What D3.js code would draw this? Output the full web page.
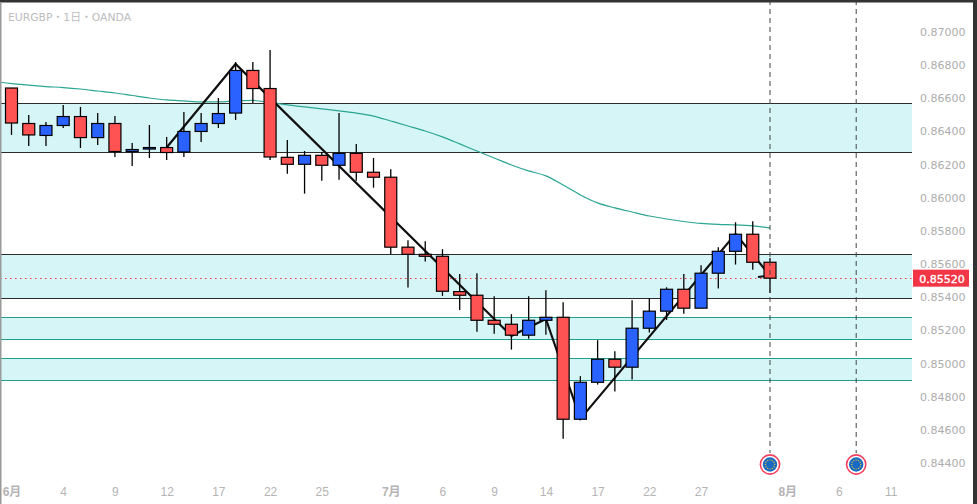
<!DOCTYPE html>
<html>
<head>
<meta charset="utf-8">
<script src="https://cdn.jsdelivr.net/npm/d3@7"></script>
<style>
  html, body { margin: 0; padding: 0; background: #fff; overflow: hidden; }
  svg { display: block; font-family: "DejaVu Sans", "Noto Sans CJK JP", sans-serif; }
</style>
</head>
<body>
<script>
const opens = [0.86662, 0.86448, 0.86376, 0.86436, 0.86490, 0.86363, 0.86448, 0.86279, 0.86294, 0.86303, 0.86276, 0.86400, 0.86448, 0.86511, 0.86768, 0.86659,
  0.86244, 0.86202, 0.86256, 0.86196, 0.86268, 0.86154, 0.86124, 0.85702, 0.85659, 0.85647, 0.85434, 0.85412, 0.85261, 0.85237, 0.85171, 0.85261,
  0.85279, 0.84664, 0.84887, 0.85026, 0.84978, 0.85213, 0.85316, 0.85448, 0.85334, 0.85545, 0.85677, 0.85780, 0.85611];
const highs = [0.86662, 0.86499, 0.86457, 0.86560, 0.86548, 0.86511, 0.86493, 0.86331, 0.86439, 0.86367, 0.86518, 0.86511, 0.86602, 0.86819, 0.86819, 0.86891,
  0.86349, 0.86282, 0.86276, 0.86511, 0.86325, 0.86240, 0.86172, 0.85744, 0.85738, 0.85690, 0.85540, 0.85545, 0.85406, 0.85298, 0.85406, 0.85442,
  0.85370, 0.84924, 0.85141, 0.85074, 0.85382, 0.85394, 0.85460, 0.85540, 0.85593, 0.85702, 0.85852, 0.85858, 0.85637];
const lows = [0.86379, 0.86312, 0.86312, 0.86421, 0.86300, 0.86318, 0.86246, 0.86192, 0.86240, 0.86228, 0.86246, 0.86337, 0.86421, 0.86469, 0.86572, 0.86228,
  0.86145, 0.86025, 0.86103, 0.86109, 0.86103, 0.86061, 0.85661, 0.85458, 0.85615, 0.85408, 0.85323, 0.85192, 0.85180, 0.85084, 0.85150, 0.85174,
  0.84547, 0.84664, 0.84873, 0.84831, 0.84903, 0.85187, 0.85263, 0.85301, 0.85334, 0.85452, 0.85597, 0.85566, 0.85426];
const closes = [0.86451, 0.86379, 0.86436, 0.86490, 0.86363, 0.86448, 0.86279, 0.86291, 0.86303, 0.86273, 0.86400, 0.86448, 0.86508, 0.86768, 0.86659, 0.86246,
  0.86202, 0.86256, 0.86196, 0.86268, 0.86154, 0.86124, 0.85702, 0.85659, 0.85647, 0.85436, 0.85412, 0.85261, 0.85237, 0.85171, 0.85261, 0.85279,
  0.84664, 0.84887, 0.85026, 0.84978, 0.85213, 0.85316, 0.85448, 0.85334, 0.85545, 0.85677, 0.85780, 0.85611, 0.85515];

// moving average, first value sits one bar left of the first candle
const maValues = [0.86701, 0.86689, 0.86679, 0.86671, 0.86665, 0.86656, 0.86644, 0.86632, 0.86617, 0.86602, 0.86590, 0.86584, 0.86578, 0.86578, 0.86584, 0.86587,
  0.86575, 0.86560, 0.86548, 0.86536, 0.86524, 0.86511, 0.86493, 0.86463, 0.86433, 0.86403, 0.86367, 0.86325, 0.86282, 0.86240, 0.86198, 0.86162,
  0.86132, 0.86077, 0.86017, 0.85969, 0.85939, 0.85914, 0.85890, 0.85872, 0.85857, 0.85845, 0.85839, 0.85836, 0.85830, 0.85818];

const zigzagBars = [9, 13, 29, 31, 33, 42, 44, 43.3];
const zigzagPrices = [0.86303, 0.86807, 0.85167, 0.85269, 0.84666, 0.85782, 0.85531, 0.85522];

const zoneTops = [0.86572, 0.85658, 0.85278, 0.85031];
const zoneBottoms = [0.86276, 0.85396, 0.85146, 0.84898];
const zoneEdges = ["#2b2b2b", "#2b2b2b", "#1f9e8c", "#1f9e8c"];

const priceTicks = d3.range(0, 14).map(i => 0.844 + i * 0.002);
const timeBars = [0, 3, 6, 9, 12, 15, 18, 22, 25, 28, 31, 34, 37, 40, 45, 48, 51];
const timeLabels = ["6月", "4", "9", "12", "17", "22", "25", "7月", "6", "9", "14", "17", "22", "27", "8月", "6", "11"];
const eventBars = [44, 49];

const lastPrice = 0.85515;
const lastLabel = "0.85520";

const width = 977;
const height = 504;
const paneRight = 912;
const axisFont = "'DejaVu Sans', sans-serif";
const timeFont = "'Liberation Sans', 'Noto Sans CJK JP', sans-serif";

const x = d3.scaleLinear().domain([0, 44]).range([11.5, 770]);
const y = d3.scaleLinear().domain([0.844, 0.87]).range([463, 32]);
const crisp = v => Math.round(v) + 0.5;

const svg = d3.select("body").append("svg")
    .attr("width", width)
    .attr("height", height);

svg.append("defs").append("clipPath").attr("id", "pane")
    .append("rect")
    .attr("width", paneRight)
    .attr("height", height);

const pane = svg.append("g").attr("clip-path", "url(#pane)");

// zones
zoneTops.forEach((top, i) => {
    pane.append("rect")
        .attr("x", 0)
        .attr("y", crisp(y(top)))
        .attr("width", paneRight)
        .attr("height", crisp(y(zoneBottoms[i])) - crisp(y(top)))
        .attr("fill", "#d6f5f7");
    [top, zoneBottoms[i]].forEach(p => {
        pane.append("line")
            .attr("x1", 0)
            .attr("x2", paneRight)
            .attr("y1", crisp(y(p)))
            .attr("y2", crisp(y(p)))
            .attr("stroke", zoneEdges[i])
            .attr("stroke-width", 1);
    });
});

// moving average
const maLine = d3.line()
    .x((d, i) => x(i - 1))
    .y(d => y(d))
    .curve(d3.curveMonotoneX);

pane.append("path")
    .attr("d", maLine(maValues))
    .attr("fill", "none")
    .attr("stroke", "#2aa593")
    .attr("stroke-width", 1.2);

// zigzag
const zigzag = d3.line()
    .x(d => x(d))
    .y((d, i) => y(zigzagPrices[i]));

pane.append("path")
    .attr("d", zigzag(zigzagBars))
    .attr("fill", "none")
    .attr("stroke", "#111")
    .attr("stroke-width", 2.2);

// last price line
pane.append("line")
    .attr("x1", 0)
    .attr("x2", paneRight)
    .attr("y1", crisp(y(lastPrice)))
    .attr("y2", crisp(y(lastPrice)))
    .attr("stroke", "#f23645")
    .attr("stroke-width", 1)
    .attr("stroke-dasharray", "1.5,3.5");

// candles
const candles = pane.selectAll("g.candle")
    .data(opens)
    .enter()
    .append("g")
    .attr("class", "candle");

candles.append("line")
    .attr("x1", (d, i) => x(i))
    .attr("x2", (d, i) => x(i))
    .attr("y1", (d, i) => y(highs[i]))
    .attr("y2", (d, i) => y(lows[i]))
    .attr("stroke", "#000")
    .attr("stroke-width", 1.3);

candles.append("rect")
    .attr("x", (d, i) => x(i) - 6)
    .attr("y", (d, i) => y(Math.max(d, closes[i])))
    .attr("width", 12)
    .attr("height", (d, i) => Math.abs(y(d) - y(closes[i])))
    .attr("fill", (d, i) => closes[i] < d ? "#ff5252" : "#2962ff")
    .attr("stroke", "#000")
    .attr("stroke-width", 1.2);

// event markers
eventBars.forEach(b => {
    pane.append("line")
        .attr("x1", x(b))
        .attr("x2", x(b))
        .attr("y1", 0)
        .attr("y2", 453)
        .attr("stroke", "#444")
        .attr("stroke-width", 1)
        .attr("stroke-dasharray", "5,4");
    const flag = pane.append("g").attr("transform", `translate(${x(b)},464.5)`);
    flag.append("circle").attr("r", 9.6).attr("fill", "#fff").attr("stroke", "#f23f5c").attr("stroke-width", 1.6);
    flag.append("circle").attr("r", 7.2).attr("fill", "#1669c4");
    flag.selectAll("circle.star")
        .data(d3.range(12))
        .enter()
        .append("circle")
        .attr("class", "star")
        .attr("cx", d => 4.6 * Math.cos(d * Math.PI / 6))
        .attr("cy", d => 4.6 * Math.sin(d * Math.PI / 6))
        .attr("r", 0.7)
        .attr("fill", "#d2bd3c");
});

// axes
const priceAxis = d3.axisRight(y)
    .tickValues(priceTicks)
    .tickSize(0)
    .tickPadding(0)
    .tickFormat(d3.format(".5f"));

const priceG = svg.append("g")
    .attr("transform", "translate(920,0)")
    .call(priceAxis);
priceG.select(".domain").remove();
priceG.attr("font-family", axisFont).attr("font-size", 11);
priceG.selectAll("text").attr("fill", "#adadad");

const timeAxis = d3.axisBottom(x)
    .tickValues(timeBars)
    .tickSize(0)
    .tickPadding(0)
    .tickFormat(d => timeLabels[timeBars.indexOf(d)]);

const timeG = svg.append("g")
    .attr("transform", "translate(0,487)")
    .call(timeAxis);
timeG.select(".domain").remove();
timeG.attr("font-family", timeFont).attr("font-size", 12);
timeG.selectAll("text")
    .attr("fill", "#b4b4b4")
    .attr("font-weight", (d, i) => timeLabels[i].includes("月") ? "bold" : "normal");

// last price tag
svg.append("rect")
    .attr("x", 913)
    .attr("y", y(lastPrice) - 8.5)
    .attr("width", 56)
    .attr("height", 17)
    .attr("fill", "#f23645");
svg.append("text")
    .attr("x", 942)
    .attr("y", y(lastPrice) + 4.5)
    .attr("text-anchor", "middle")
    .attr("fill", "#fff")
    .attr("stroke", "#fff")
    .attr("stroke-width", 0.35)
    .attr("font-family", axisFont)
    .attr("font-size", 11)
    .text(lastLabel);

// title
svg.append("text")
    .attr("x", 8)
    .attr("y", 21)
    .attr("fill", "#bdbdbd")
    .attr("font-size", 10.8)
    .text("EURGBP・1日・OANDA");

// window frame
svg.append("rect").attr("width", width).attr("height", 2.5).attr("fill", "#333");
svg.append("rect").attr("y", 2).attr("width", 1.5).attr("height", height).attr("fill", "#9a9a9a");
svg.append("rect").attr("x", 973).attr("y", 0).attr("width", 4).attr("height", height).attr("fill", "#333");
</script>
</body>
</html>
